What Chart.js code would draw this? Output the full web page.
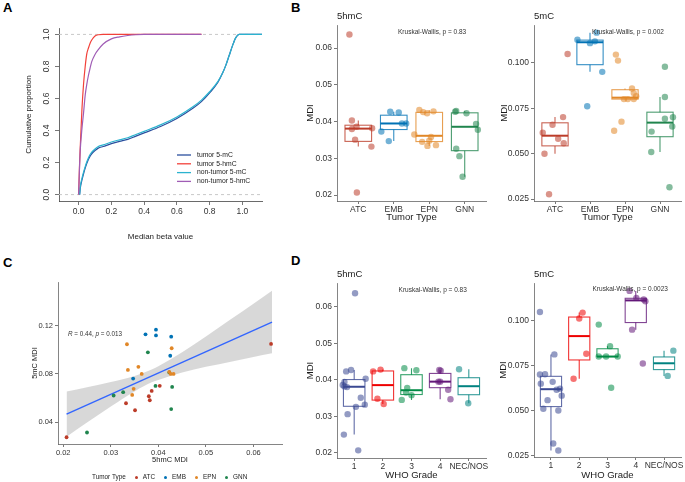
<!DOCTYPE html>
<html>
<head>
<meta charset="utf-8">
<script src="https://cdn.jsdelivr.net/npm/chart.js@4.4.0/dist/chart.umd.min.js"></script>
<style>
  body { margin: 0; background: #fff; font-family: 'Liberation Sans', Arial, sans-serif; }
  #page { position: relative; width: 685px; height: 482px; overflow: hidden; }
  .panel { position: absolute; }
  .tag { position: absolute; font-weight: bold; font-size: 13px; line-height: 13px; color: #000; }
  #lgC { position: absolute; left: 92px; top: 472px; font-size: 6.4px; color: #222; white-space: nowrap; line-height: 9px; }
  #lgC i { display: inline-block; width: 3px; height: 3px; border-radius: 50%; margin: 0 5px 0 9px; vertical-align: middle; }
</style>
</head>
<body>
<div id="page">
  <div class="tag" style="left:3px;top:1px">A</div>
  <div class="tag" style="left:291px;top:1px">B</div>
  <div class="tag" style="left:3px;top:256px">C</div>
  <div class="tag" style="left:291px;top:254px">D</div>

  <div class="panel" style="left:0;top:0"><canvas id="cdfChart" width="270" height="245"></canvas></div>
  <div class="panel" style="left:275px;top:0"><canvas id="typeHmc" width="215" height="230"></canvas></div>
  <div class="panel" style="left:480px;top:0"><canvas id="typeMc" width="205" height="230"></canvas></div>
  <div class="panel" style="left:0;top:245px"><canvas id="corrChart" width="290" height="237"></canvas></div>
  <div class="panel" style="left:275px;top:245px"><canvas id="gradeHmc" width="215" height="237"></canvas></div>
  <div class="panel" style="left:480px;top:245px"><canvas id="gradeMc" width="205" height="237"></canvas></div>
  <div id="lgC"></div>
</div>
<script>
// ---- panel A: cumulative distributions of median beta values
const hmcBeta = [0, 0.005, 0.01, 0.02, 0.03, 0.04, 0.05, 0.06, 0.07, 0.08, 0.1, 0.12, 0.15, 0.2, 0.25, 0.3, 0.35, 0.4, 0.5, 0.75];
const tumor5hmC = [0, 0.17, 0.30, 0.53, 0.69, 0.80, 0.88, 0.915, 0.945, 0.965, 0.99, 0.998, 1, 1, 1, 1, 1, 1, 1, 1];
const nonTumor5hmC = [0, 0.16, 0.28, 0.41, 0.51, 0.62, 0.69, 0.745, 0.79, 0.83, 0.875, 0.905, 0.94, 0.972, 0.985, 0.993, 0.998, 1, 1, 1];
const mcBeta = [0.006, 0.01, 0.02, 0.03, 0.04, 0.05, 0.06, 0.07, 0.08, 0.1, 0.12, 0.15, 0.2, 0.25, 0.3, 0.35, 0.4, 0.5, 0.6, 0.7, 0.75, 0.8, 0.85, 0.88, 0.9, 0.92, 0.94, 0.96, 0.98, 1.0, 1.12];
const tumor5mC = [0, 0.04, 0.09, 0.13, 0.165, 0.195, 0.22, 0.24, 0.255, 0.275, 0.29, 0.30, 0.318, 0.332, 0.345, 0.365, 0.385, 0.425, 0.475, 0.54, 0.58, 0.635, 0.70, 0.76, 0.81, 0.87, 0.93, 0.98, 1.0, 1.0, 1.0];
const nonTumor5mC = [0, 0.05, 0.10, 0.14, 0.175, 0.205, 0.23, 0.25, 0.265, 0.285, 0.30, 0.31, 0.328, 0.342, 0.355, 0.375, 0.395, 0.435, 0.485, 0.55, 0.59, 0.642, 0.705, 0.76, 0.81, 0.87, 0.93, 0.98, 1.0, 1.0, 1.0];
const curveLabels = ['tumor 5-mC', 'tumor 5-hmC', 'non-tumor 5-mC', 'non-tumor 5-hmC'];
const curveColors = ['#2B4F9E', '#F2413A', '#2BB3CF', '#A05DB5'];

// ---- samples (panels B, C, D)
const tumorTypes = ['ATC', 'EMB', 'EPN', 'GNN'];
const whoGrades = ['1', '2', '3', '4', 'NEC/NOS'];
const sampleType = ['ATC', 'ATC', 'ATC', 'ATC', 'ATC', 'ATC', 'ATC', 'ATC',
  'EMB', 'EMB', 'EMB', 'EMB', 'EMB', 'EMB',
  'EPN', 'EPN', 'EPN', 'EPN', 'EPN', 'EPN', 'EPN', 'EPN', 'EPN', 'EPN',
  'GNN', 'GNN', 'GNN', 'GNN', 'GNN', 'GNN', 'GNN', 'GNN'];
const sampleGrade = ['1', '1', '1', '1', '1', '1', '1', '1',
  '4', '4', '4', '4', '4', '4',
  '2', 'NEC/NOS', '3', '3', '2', '3', '2', '2', '3', '3',
  '3', '1', 'NEC/NOS', '1', '1', '1', '1', '1'];
const hmcMDI = [0.0637, 0.0403, 0.0386, 0.0380, 0.0382, 0.0332, 0.0351, 0.0207,
  0.0373, 0.0395, 0.0395, 0.0427, 0.0425, 0.0347,
  0.0334, 0.0336, 0.0358, 0.0365, 0.0348, 0.0345, 0.0428, 0.0423, 0.0426, 0.0432,
  0.0378, 0.0394, 0.0429, 0.0427, 0.0326, 0.0306, 0.0250, 0.0423];
const mcMDI = [0.1048, 0.0701, 0.0659, 0.0615, 0.0582, 0.0557, 0.0499, 0.0276,
  0.1127, 0.1166, 0.1118, 0.1108, 0.0950, 0.0761,
  0.1045, 0.0833, 0.0858, 0.0800, 0.0676, 0.0626, 0.1012, 0.0816, 0.0800, 0.0800,
  0.0978, 0.0700, 0.0692, 0.0509, 0.0649, 0.0621, 0.0315, 0.0812];
// horizontal jitter of each point
const jitTypeHmc = [-0.25, -0.18, -0.05, -0.18, 0.39, 0.37, -0.09, -0.04,
  -0.35, 0.23, 0.35, -0.10, 0.14, -0.14,
  -0.05, 0.19, 0.05, -0.42, 0.00, -0.20, 0.12, -0.06, -0.17, -0.28,
  0.37, 0.32, -0.24, -0.27, -0.24, -0.15, -0.06, 0.05];
const jitTypeMc = [0.36, 0.23, -0.07, -0.35, 0.09, 0.25, -0.30, -0.17,
  -0.36, 0.19, 0.14, 0.00, 0.35, -0.08,
  -0.26, 0.25, 0.20, -0.03, -0.10, -0.31, -0.20, 0.32, 0.25, 0.08,
  0.14, 0.37, 0.14, -0.25, 0.35, -0.24, 0.27, 0.14];
const jitGradeHmc = [0.03, 0.40, -0.40, -0.25, -0.34, 0.37, 0.23, 0.14,
  0.28, -0.06, 0.00, -0.03, 0.02, 0.36,
  0.03, -0.02, 0.00, -0.19, -0.19, -0.34, -0.08, -0.34, 0.17, -0.25,
  -0.15, -0.34, -0.34, -0.11, 0.06, -0.23, -0.36, -0.28];
const jitGradeMc = [-0.39, -0.21, 0.06, 0.20, 0.38, -0.12, 0.26, 0.26,
  0.02, -0.22, 0.28, 0.34, -0.13, 0.25,
  0.12, 0.33, 0.09, -0.31, -0.20, 0.13, 0.00, 0.25, 0.36, -0.05,
  -0.31, -0.39, 0.13, -0.27, -0.36, 0.32, 0.08, 0.12];
const typeColors = ['#BC3C29', '#0072B5', '#E18727', '#20854E'];
const gradeColors = ['#3B4992', '#EE0000', '#008B45', '#631879', '#008280'];

// ---- panel C regression line and its confidence band
const fitX = [0.0207, 0.0639];
const fitY = [0.0467, 0.1229];
const bandX = [0.0207, 0.025, 0.03, 0.035, 0.0386, 0.04, 0.045, 0.05, 0.055, 0.06, 0.0639];
const bandUpper = [0.0654, 0.0689, 0.0732, 0.0783, 0.0836, 0.0864, 0.0979, 0.1110, 0.1245, 0.1381, 0.1488];
const bandLower = [0.0280, 0.0397, 0.0530, 0.0655, 0.0730, 0.0750, 0.0811, 0.0858, 0.0899, 0.0939, 0.0970];

Chart.defaults.font.family = "'Liberation Sans', Arial, sans-serif";
Chart.defaults.color = '#333';

function fade(hex, a) {
  const n = parseInt(hex.slice(1), 16);
  return 'rgba(' + (n >> 16) + ',' + ((n >> 8) & 255) + ',' + (n & 255) + ',' + a + ')';
}

function quantile(s, p) {
  const h = (s.length - 1) * p, lo = Math.floor(h);
  const next = lo + 1 < s.length ? s[lo + 1] : s[lo];
  return s[lo] + (h - lo) * (next - s[lo]);
}

function boxStats(vals) {
  const s = vals.slice().sort((a, b) => a - b);
  const q1 = quantile(s, 0.25), med = quantile(s, 0.5), q3 = quantile(s, 0.75);
  const iqr = q3 - q1;
  const inside = s.filter(v => v >= q1 - 1.5 * iqr && v <= q3 + 1.5 * iqr);
  return { q1, med, q3, lo: inside[0], hi: inside[inside.length - 1] };
}

function boxPlugin(groups) {
  return {
    id: 'boxes',
    beforeDatasetsDraw(chart) {
      const { ctx, scales: { x, y } } = chart;
      groups.forEach(g => {
        const s = g.stats;
        const x0 = x.getPixelForValue(g.pos - 0.375), x1 = x.getPixelForValue(g.pos + 0.375);
        const xm = x.getPixelForValue(g.pos);
        ctx.save();
        ctx.strokeStyle = g.color;
        ctx.globalAlpha = 0.8;
        ctx.lineWidth = 1.1;
        ctx.beginPath();
        ctx.moveTo(xm, y.getPixelForValue(s.lo)); ctx.lineTo(xm, y.getPixelForValue(s.q1));
        ctx.moveTo(xm, y.getPixelForValue(s.q3)); ctx.lineTo(xm, y.getPixelForValue(s.hi));
        ctx.stroke();
        ctx.strokeRect(x0, y.getPixelForValue(s.q3), x1 - x0, y.getPixelForValue(s.q1) - y.getPixelForValue(s.q3));
        ctx.globalAlpha = 1;
        ctx.lineWidth = 2;
        ctx.beginPath();
        ctx.moveTo(x0, y.getPixelForValue(s.med)); ctx.lineTo(x1, y.getPixelForValue(s.med));
        ctx.stroke();
        ctx.restore();
      });
    }
  };
}

function notePlugin(title, note) {
  return {
    id: 'notes',
    afterDraw(chart) {
      const { ctx, chartArea, scales } = chart;
      ctx.save();
      ctx.fillStyle = '#1a1a1a';
      ctx.textBaseline = 'middle';
      ctx.textAlign = 'left';
      if (title) {
        ctx.font = "9.5px 'Liberation Sans', Arial";
        ctx.fillText(title, chartArea.left, chartArea.top - 9);
      }
      if (note) {
        let px = scales.x.getPixelForValue(note.x);
        const py = scales.y.getPixelForValue(note.y);
        ctx.fillStyle = '#333';
        note.parts.forEach(p => {
          ctx.font = (p.italic ? 'italic ' : '') + note.size + "px 'Liberation Sans', Arial";
          ctx.fillText(p.t, px, py);
          px += ctx.measureText(p.t).width;
        });
      }
      ctx.restore();
    }
  };
}

// legend of panel A, inside the plot area near its lower right corner
const cdfLegend = {
  id: 'cdfLegend',
  afterDraw(chart) {
    const { ctx, chartArea } = chart;
    const x0 = chartArea.right - 85, y0 = chartArea.bottom - 46;
    ctx.save();
    ctx.font = "6.8px 'Liberation Sans', Arial";
    ctx.textBaseline = 'middle';
    ctx.textAlign = 'left';
    curveLabels.forEach((t, i) => {
      const yy = y0 + i * 8.8;
      ctx.strokeStyle = curveColors[i];
      ctx.lineWidth = 1.3;
      ctx.beginPath();
      ctx.moveTo(x0, yy); ctx.lineTo(x0 + 14, yy);
      ctx.stroke();
      ctx.fillStyle = '#222';
      ctx.fillText(t, x0 + 20, yy);
    });
    ctx.restore();
  }
};

function axisBase(fontSize) {
  return {
    grid: { drawOnChartArea: false, tickLength: 3, tickColor: '#555', tickWidth: 0.8 },
    border: { color: '#666', width: 0.8 },
    ticks: { font: { size: fontSize }, color: '#333', maxRotation: 0, autoSkip: false }
  };
}

function boxPanel(id, cats, keys, values, jitter, colors, yCfg, geo, xTitle, title, note) {
  const groups = cats.map((c, i) => {
    const idx = keys.map((k, j) => (k === c ? j : -1)).filter(j => j >= 0);
    return { pos: i + 1, color: colors[i], idx, stats: boxStats(idx.map(j => values[j])) };
  });
  const datasets = groups.map(g => ({
    data: g.idx.map(j => ({ x: g.pos + jitter[j], y: values[j] })),
    backgroundColor: fade(g.color, 0.55),
    borderWidth: 0,
    pointRadius: 3.2
  }));
  const xAxis = axisBase(8.5), yAxis = axisBase(8.5);
  Object.assign(xAxis, {
    type: 'linear', min: 0.4, max: cats.length + 0.6,
    afterBuildTicks: s => { s.ticks = cats.map((c, i) => ({ value: i + 1 })); },
    afterFit: s => { s.height = geo.xH; },
    title: { display: true, text: xTitle, font: { size: 9.5 }, color: '#1a1a1a', padding: { top: 0, bottom: geo.xTitlePad } }
  });
  xAxis.ticks.callback = (v, i) => cats[i];
  xAxis.ticks.padding = 1;
  Object.assign(yAxis, {
    type: 'linear', min: yCfg.min, max: yCfg.max,
    afterBuildTicks: s => { s.ticks = yCfg.ticks.map(v => ({ value: v })); },
    afterFit: s => { s.width = geo.yW; },
    title: { display: true, text: 'MDI', font: { size: 9.5 }, color: '#1a1a1a', padding: { top: geo.yTitlePad, bottom: 0 } }
  });
  yAxis.ticks.callback = v => v.toFixed(yCfg.digits);
  yAxis.ticks.padding = 2;
  new Chart(document.getElementById(id), {
    type: 'scatter',
    data: { datasets },
    options: {
      responsive: false,
      animation: false,
      layout: { padding: { left: 0, top: geo.padTop, right: geo.padRight, bottom: 0 } },
      plugins: { legend: { display: false }, tooltip: { enabled: false } },
      scales: { x: xAxis, y: yAxis }
    },
    plugins: [boxPlugin(groups), notePlugin(title, note)]
  });
}

function kw(p, x, y) {
  return { x, y, size: 6.5, parts: [{ t: 'Kruskal-Wallis, p = ' + p }] };
}

// ---- panel A
(function () {
  const curves = [[mcBeta, tumor5mC], [hmcBeta, tumor5hmC], [mcBeta, nonTumor5mC], [hmcBeta, nonTumor5hmC]];
  const datasets = [0, 1].map(v => ({
    type: 'line',
    data: [{ x: -0.12, y: v }, { x: 1.12, y: v }],
    borderColor: '#C8C8C8', borderWidth: 1, borderDash: [3, 3], pointRadius: 0, order: 5
  }));
  curves.forEach((c, i) => {
    datasets.push({
      type: 'line',
      data: c[0].map((x, j) => ({ x, y: c[1][j] })),
      borderColor: curveColors[i], borderWidth: 1.2, pointRadius: 0,
      cubicInterpolationMode: 'monotone', order: 4 - i
    });
  });
  const xAxis = axisBase(8.5), yAxis = axisBase(8.5);
  Object.assign(xAxis, {
    type: 'linear', min: -0.12, max: 1.12,
    afterBuildTicks: s => { s.ticks = [0, 0.2, 0.4, 0.6, 0.8, 1].map(v => ({ value: v })); },
    afterFit: s => { s.height = 44; },
    title: { display: true, text: 'Median beta value', font: { size: 8 }, color: '#222', padding: { top: 0, bottom: 3 } }
  });
  xAxis.ticks.callback = v => v.toFixed(1);
  xAxis.ticks.padding = 2;
  xAxis.grid.tickLength = 4;
  xAxis.border.color = '#444';
  Object.assign(yAxis, {
    type: 'linear', min: -0.04, max: 1.04,
    afterBuildTicks: s => { s.ticks = [0, 0.2, 0.4, 0.6, 0.8, 1].map(v => ({ value: v })); },
    afterFit: s => { s.width = 59; },
    title: { display: true, text: 'Cumulative proportion', font: { size: 8 }, color: '#222', padding: { top: 24, bottom: 0 } }
  });
  yAxis.ticks.callback = v => v.toFixed(1);
  yAxis.ticks.minRotation = 90;
  yAxis.ticks.maxRotation = 90;
  yAxis.ticks.crossAlign = 'center';
  yAxis.ticks.padding = 2;
  yAxis.grid.tickLength = 4;
  yAxis.border.color = '#444';
  new Chart(document.getElementById('cdfChart'), {
    type: 'scatter',
    data: { datasets },
    options: {
      responsive: false,
      animation: false,
      layout: { padding: { left: 0, top: 28, right: 8, bottom: 0 } },
      plugins: { legend: { display: false }, tooltip: { enabled: false } },
      scales: { x: xAxis, y: yAxis }
    },
    plugins: [cdfLegend]
  });
})();

// ---- panel B
boxPanel('typeHmc', tumorTypes, sampleType, hmcMDI, jitTypeHmc, typeColors,
  { min: 0.0184, max: 0.0663, ticks: [0.02, 0.03, 0.04, 0.05, 0.06], digits: 2 },
  { padTop: 25, padRight: 0, yW: 62, xH: 29, xTitlePad: 6.6, yTitlePad: 29.6 },
  'Tumor Type', '5hmC', kw('0.83', 2.12, 0.0644));
boxPanel('typeMc', tumorTypes, sampleType, mcMDI, jitTypeMc, typeColors,
  { min: 0.0239, max: 0.1208, ticks: [0.025, 0.05, 0.075, 0.1], digits: 3 },
  { padTop: 25, padRight: 3, yW: 54, xH: 29, xTitlePad: 6.6, yTitlePad: 18.6 },
  'Tumor Type', '5mC', kw('0.002', 2.06, 0.117));

// ---- panel D
boxPanel('gradeHmc', whoGrades, sampleGrade, hmcMDI, jitGradeHmc, gradeColors,
  { min: 0.0186, max: 0.0665, ticks: [0.02, 0.03, 0.04, 0.05, 0.06], digits: 2 },
  { padTop: 38, padRight: 0, yW: 62, xH: 24, xTitlePad: 0.6, yTitlePad: 29.6 },
  'WHO Grade', '5hmC', kw('0.83', 2.55, 0.0645));
boxPanel('gradeMc', whoGrades, sampleGrade, mcMDI, jitGradeMc, gradeColors,
  { min: 0.0240, max: 0.1210, ticks: [0.025, 0.05, 0.075, 0.1], digits: 3 },
  { padTop: 38, padRight: 4, yW: 54, xH: 25, xTitlePad: 0.6, yTitlePad: 17.6 },
  'WHO Grade', '5mC', kw('0.0023', 2.47, 0.1177));

// ---- panel C
(function () {
  const datasets = [
    { type: 'line', data: bandX.map((x, i) => ({ x, y: bandUpper[i] })), borderWidth: 0, pointRadius: 0,
      fill: false, cubicInterpolationMode: 'monotone', order: 3 },
    { type: 'line', data: bandX.map((x, i) => ({ x, y: bandLower[i] })), borderWidth: 0, pointRadius: 0,
      fill: '-1', backgroundColor: 'rgba(153,153,153,0.38)', cubicInterpolationMode: 'monotone', order: 3 },
    { type: 'line', data: fitX.map((x, i) => ({ x, y: fitY[i] })), borderColor: '#3366FF', borderWidth: 1.4,
      pointRadius: 0, order: 2 }
  ];
  tumorTypes.forEach((t, i) => {
    const idx = sampleType.map((k, j) => (k === t ? j : -1)).filter(j => j >= 0);
    datasets.push({
      data: idx.map(j => ({ x: hmcMDI[j], y: mcMDI[j] })),
      backgroundColor: typeColors[i], borderWidth: 0, pointRadius: 1.9, order: 1
    });
  });
  const xAxis = axisBase(7.5), yAxis = axisBase(7.5);
  Object.assign(xAxis, {
    type: 'linear', min: 0.0189, max: 0.066,
    afterBuildTicks: s => { s.ticks = [0.02, 0.03, 0.04, 0.05, 0.06].map(v => ({ value: v })); },
    afterFit: s => { s.height = 38; },
    title: { display: true, text: '5hmC MDI', font: { size: 7.5 }, color: '#222', padding: { top: 0, bottom: 17.5 } }
  });
  xAxis.ticks.callback = v => v.toFixed(2);
  xAxis.ticks.padding = 1;
  Object.assign(yAxis, {
    type: 'linear', min: 0.022, max: 0.156,
    afterBuildTicks: s => { s.ticks = [0.04, 0.08, 0.12].map(v => ({ value: v })); },
    afterFit: s => { s.width = 58; },
    title: { display: true, text: '5mC MDI', font: { size: 7.5 }, color: '#222', padding: { top: 30.5, bottom: 0 } }
  });
  yAxis.ticks.callback = v => v.toFixed(2);
  yAxis.ticks.padding = 2;
  new Chart(document.getElementById('corrChart'), {
    type: 'scatter',
    data: { datasets },
    options: {
      responsive: false,
      animation: false,
      layout: { padding: { left: 0, top: 37, right: 8, bottom: 0 } },
      plugins: { legend: { display: false }, tooltip: { enabled: false } },
      scales: { x: xAxis, y: yAxis }
    },
    plugins: [notePlugin(null, { x: 0.021, y: 0.1131, size: 6.3,
      parts: [{ t: 'R', italic: true }, { t: ' = 0.44, ' }, { t: 'p', italic: true }, { t: ' = 0.013' }] })]
  });
  const lg = document.getElementById('lgC');
  lg.innerHTML = 'Tumor Type' + tumorTypes.map((t, i) =>
    '<i style="background:' + typeColors[i] + '"></i>' + t).join('');
})();
</script>
</body>
</html>
